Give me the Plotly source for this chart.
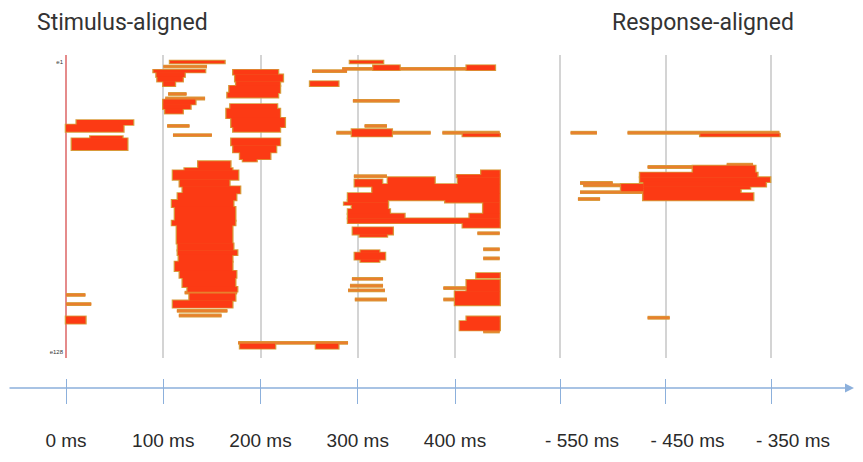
import plotly.graph_objects as go

# ---------------- data ----------------
# electrode rows 1..128 (e1 top, e128 bottom); times in ms
# red blocks: (first electrode, last electrode, start ms, end ms)
stim_blocks_early = [
    (27, 28, 11, 69), (29, 31, 0, 59), (34, 34, 25, 58), (35, 39, 6, 63),
    (113, 115, 0, 20),
]
stim_blocks_100 = [
    (1, 1, 107, 163), (5, 5, 90, 143), (6, 7, 93, 122), (8, 9, 94, 120), (10, 11, 100, 112),
    (18, 19, 100, 133), (20, 21, 100, 128), (22, 23, 102, 120),
]
stim_blocks_200 = [
    (5, 6, 172, 218), (7, 9, 174, 223), (10, 11, 175, 220), (12, 14, 168, 220), (15, 16, 166, 218),
    (20, 21, 169, 217), (22, 25, 165, 220), (26, 29, 170, 225), (30, 31, 172, 220),
    (35, 37, 170, 220), (38, 40, 172, 216), (41, 43, 179, 210), (44, 44, 182, 196),
    (125, 126, 179, 215), (125, 126, 257, 280),
]
stim_blocks_big = [
    (45, 47, 136, 169), (48, 48, 122, 171), (49, 52, 110, 177), (53, 55, 117, 168),
    (56, 58, 120, 179), (59, 61, 115, 175), (62, 64, 109, 172), (65, 70, 112, 174),
    (71, 72, 109, 174), (73, 80, 114, 171), (81, 83, 115, 172), (84, 85, 115, 176),
    (86, 88, 116, 171), (89, 92, 112, 171), (93, 95, 117, 175), (96, 99, 120, 174),
    (100, 101, 125, 176), (103, 105, 127, 174), (106, 108, 110, 171),
]
stim_blocks_300 = [
    (1, 1, 292, 326), (3, 4, 316, 343), (3, 4, 412, 441), (10, 11, 251, 280),
    (31, 33, 294, 335), (33, 33, 408, 446),
    (49, 50, 427, 446), (51, 51, 402, 446), (52, 54, 331, 379), (52, 54, 403, 446),
    (53, 55, 297, 325), (55, 58, 315, 446), (59, 61, 290, 446),
    (62, 62, 290, 331), (62, 62, 390, 446), (63, 63, 286, 331), (64, 65, 294, 331),
    (66, 67, 290, 333), (63, 67, 429, 446), (68, 69, 290, 348), (68, 69, 415, 446),
    (70, 71, 290, 446), (72, 73, 408, 446),
    (74, 76, 295, 336), (77, 77, 302, 330),
    (84, 84, 303, 322), (85, 87, 297, 328), (88, 88, 303, 322),
    (94, 95, 422, 446), (97, 101, 412, 446), (102, 107, 400, 446),
    (113, 114, 412, 446), (115, 118, 405, 446),
]
# thin orange traces: (electrode, start ms, end ms)
stim_lines = [
    (30, 0, 14), (103, 0, 20), (107, 0, 26),
    (3, 100, 145), (15, 105, 124), (17, 102, 143), (29, 104, 127), (33, 110, 150),
    (102, 122, 176), (110, 114, 166), (112, 116, 160),
    (124, 177, 290),
    (4, 284, 441), (5, 253, 289), (18, 295, 343), (29, 307, 330), (32, 278, 375),
    (32, 387, 446), (51, 296, 330), (76, 423, 446), (83, 429, 446), (87, 429, 446),
    (96, 294, 326), (99, 292, 326), (101, 290, 328), (100, 388, 415), (105, 388, 402),
    (105, 297, 330), (119, 429, 446),
]
resp_blocks = [
    (33, 33, -417, -342),
    (47, 49, -424, -365), (50, 51, -474, -363), (52, 53, -474, -351),
    (54, 55, -471, -355), (56, 56, -471, -370), (55, 57, -492, -471),
    (57, 58, -471, -379), (59, 61, -471, -367),
]
resp_lines = [
    (32, -540, -515), (32, -486, -342),
    (46, -392, -367), (47, -467, -367), (54, -531, -500), (55, -528, -471),
    (58, -531, -471), (61, -533, -512), (113, -467, -446),
]
stim_ticks = [0, 100, 200, 300, 400]
stim_tick_text = ["0 ms", "100 ms", "200 ms", "300 ms", "400 ms"]
resp_ticks = [-550, -450, -350]
resp_tick_text = ["- 550 ms", "- 450 ms", "- 350 ms"]
row_ticks = [1, 128]
row_tick_text = ["e1", "e128"]

# ---------------- styling ----------------
OFF = 8                      # page body margin
W, H = 863 - 2 * OFF, 462 - 2 * OFF
RED = "#fc3a14"
EDGE = "#d89a3a"
LINE = "#e97f2d"
AXBLUE = "#8cb0dc"
GRID = "#d4d4d4"


def px(v):
    return (v - OFF) / W


def py(v):
    return 1 - (v - OFF) / H


def block_trace(blocks, xa, color, pad_e=0.0, pad_t=0.0):
    return go.Bar(
        orientation="h",
        y=[(a + b) / 2 for a, b, _, _ in blocks],
        base=[t0 - pad_t for _, _, t0, _ in blocks],
        x=[t1 - t0 + 2 * pad_t for _, _, t0, t1 in blocks],
        width=[b - a + 1 + 2 * pad_e for a, b, _, _ in blocks],
        marker=dict(color=color, line=dict(width=0)),
        xaxis=xa, yaxis="y", hoverinfo="skip", showlegend=False,
    )


def line_trace(lines, xa, color, thick):
    return go.Bar(
        orientation="h",
        y=[e for e, _, _ in lines],
        base=[t0 for _, t0, _ in lines],
        x=[t1 - t0 for _, t0, t1 in lines],
        width=[thick] * len(lines),
        marker=dict(color=color, line=dict(width=0)),
        xaxis=xa, yaxis="y", hoverinfo="skip", showlegend=False,
    )


stim_blocks = stim_blocks_early + stim_blocks_100 + stim_blocks_200 + stim_blocks_big + stim_blocks_300

fig = go.Figure()
for blocks, lines, xa in [(stim_blocks, stim_lines, "x"), (resp_blocks, resp_lines, "x2")]:
    fig.add_trace(block_trace(blocks, xa, EDGE, pad_e=0.45, pad_t=1.3))
    fig.add_trace(line_trace(lines, xa, EDGE, 1.7))
    fig.add_trace(line_trace(lines, xa, LINE, 0.9))
    fig.add_trace(block_trace(blocks, xa, RED, pad_e=0.08))

s_px = (455 - 66) / 400.0
r_px = (771 - 560) / 200.0
x_range = [(8 - 66) / s_px, (530 - 66) / s_px]
x2_range = [-550 - 30 / r_px, -550 + 295 / r_px]
e_px = (352 - 62) / 127.0
y_range = [128 + 6 / e_px, 1 - 7 / e_px]

TICKFONT = dict(family="Liberation Sans, Arial, sans-serif", size=19, color="#2a2a2a")

fig.update_layout(
    width=W, height=H,
    margin=dict(l=0, r=0, t=0, b=0),
    paper_bgcolor="white", plot_bgcolor="white",
    barmode="overlay",
    xaxis=dict(domain=[px(8), px(530)], range=x_range, anchor="free", position=py(378),
               tickvals=stim_ticks, ticktext=stim_tick_text, ticks="outside", ticklen=25,
               tickcolor=AXBLUE, tickwidth=1.3, tickfont=TICKFONT, ticklabelstandoff=20,
               showgrid=True, gridcolor=GRID, gridwidth=1.5,
               zeroline=True, zerolinecolor="#e58b8b", zerolinewidth=1.5, showline=False),
    xaxis2=dict(domain=[px(530), px(855)], range=x2_range, anchor="free", position=py(378),
                tickvals=resp_ticks, ticktext=resp_tick_text, ticks="outside", ticklen=25,
                tickcolor=AXBLUE, tickwidth=1.3, tickfont=TICKFONT, ticklabelstandoff=20,
                ticklabelshift=22,
                showgrid=True, gridcolor=GRID, gridwidth=1.5, zeroline=False, showline=False),
    yaxis=dict(domain=[py(358), py(55)], range=y_range, anchor="free", position=px(64),
               tickvals=row_ticks, ticktext=row_tick_text, ticks="", showgrid=False,
               zeroline=False, showline=False, ticklabelstandoff=1,
               tickfont=dict(family="Liberation Sans, Arial, sans-serif", size=6, color="#333333")),
)

TITLEFONT = dict(family="Roboto, Liberation Sans, Arial, sans-serif", size=23, color="#333333")
fig.add_annotation(text="Stimulus-aligned", x=px(35), y=py(23), xref="paper", yref="paper",
                   xanchor="left", yanchor="middle", showarrow=False, font=TITLEFONT)
fig.add_annotation(text="Response-aligned", x=px(610), y=py(23), xref="paper", yref="paper",
                   xanchor="left", yanchor="middle", showarrow=False, font=TITLEFONT)
# horizontal time axis with arrow head
fig.add_annotation(text="", x=px(856), y=py(388), xref="paper", yref="paper",
                   ax=-848, ay=0, showarrow=True, arrowhead=2, arrowsize=1.2,
                   arrowwidth=1.5, arrowcolor=AXBLUE)

fig.write_html("out.html")
